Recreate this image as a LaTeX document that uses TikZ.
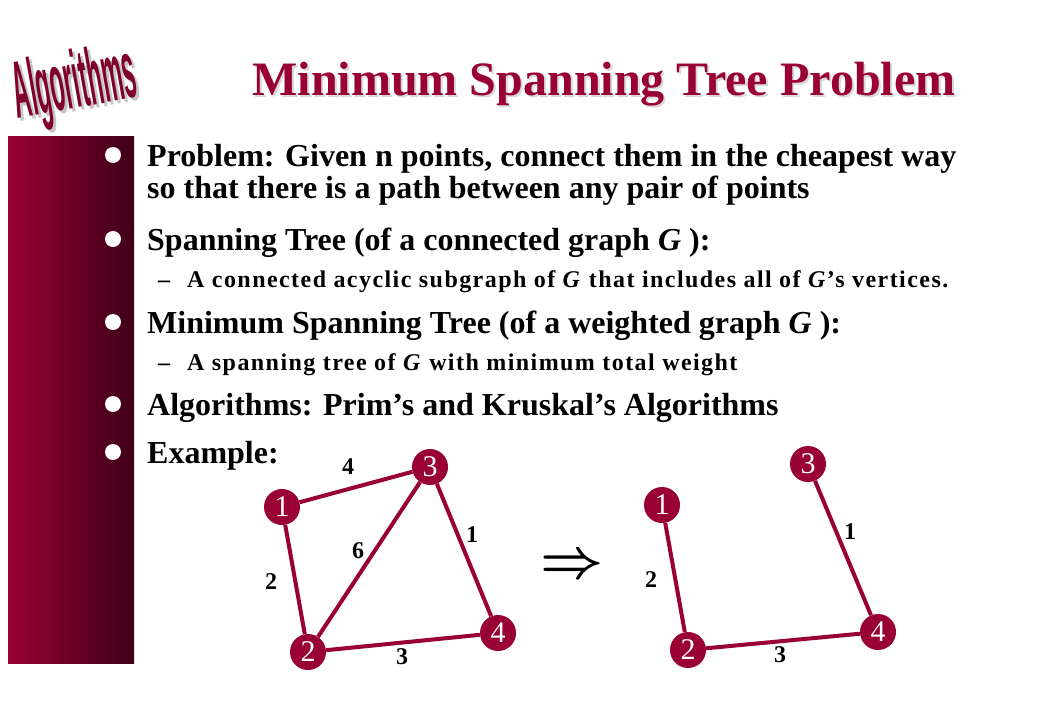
\documentclass[tikz,border=0pt]{standalone}
\usepackage{fontspec}
\setmainfont{Liberation Serif}
\newfontfamily\logofont{Liberation Sans}
\usetikzlibrary{positioning}
\definecolor{crimson}{RGB}{153,0,51}
\definecolor{wine}{RGB}{62,0,24}
\definecolor{logored}{RGB}{128,0,45}

\begin{document}
\begin{tikzpicture}[x=1pt,y=-1pt,
  vtx/.style={circle,fill=crimson,text=white,inner sep=0pt,minimum size=36pt,
    font=\fontsize{30}{30}\selectfont},
  edge/.style={crimson,line width=4pt},
  wlabel/.style={font=\fontsize{24}{24}\selectfont\bfseries},
  bigitem/.style={anchor=base west,inner sep=0pt,font=\fontsize{32}{32}\selectfont\bfseries},
  subitem/.style={anchor=base west,inner sep=0pt,
    font=\fontsize{24}{24}\selectfont\bfseries\addfontfeature{LetterSpace=6}},
  bulletdot/.style={circle,fill=white,inner sep=0pt,minimum size=16pt}]
\useasboundingbox (0,0) rectangle (1039,720);
\fill[white] (0,0) rectangle (1039,720);

% logo
\node[rotate=10,text=gray!45] (logoshadow) at (78,90)
  {\scalebox{0.78}[2.7]{\logofont\fontsize{30}{30}\selectfont\bfseries Algorithms}};
\node[rotate=10,text=logored] (logo) at (75,87)
  {\scalebox{0.78}[2.7]{\logofont\fontsize{30}{30}\selectfont\bfseries Algorithms}};

% title
\node[anchor=base,text=gray!30,font=\fontsize{48}{48}\selectfont\bfseries] (titleshadow) at (606,97)
  {Minimum Spanning Tree Problem};
\node[anchor=base,text=crimson,font=\fontsize{48}{48}\selectfont\bfseries] (title) at (604,95)
  {Minimum Spanning Tree Problem};

% side bar
\shade[left color=crimson,right color=wine] (8,136) rectangle (134,663);
\foreach \y/\n in {155/1,239/2,322/3,404/4,452/5}
  \node[bulletdot] (dot\n) at (113,\y) {};

% text
\node[bigitem] (item1) at (147,166) {Problem: Given n points, connect them in the cheapest way};
\node[bigitem] (item1b) at (147,198) {so that there is a path between any pair of points};
\node[bigitem] (item2) at (147,250) {Spanning Tree (of a connected graph \textit{G} ):};
\node[subitem] (dash2) at (158,287) {--};
\node[subitem] (sub2) at (187,287) {A connected acyclic subgraph of \textit{G} that includes all of \textit{G}’s vertices.};
\node[bigitem] (item3) at (147,333) {Minimum Spanning Tree (of a weighted graph \textit{G} ):};
\node[subitem] (dash3) at (158,370) {--};
\node[subitem] (sub3) at (187,370) {A spanning tree of \textit{G} with minimum total weight};
\node[bigitem] (item4) at (147,415) {Algorithms: Prim’s and Kruskal’s Algorithms};
\node[bigitem] (item5) at (147,463) {Example:};

% graph
\node[vtx] (a1) at (282,507) {1};
\node[vtx] (a2) at (308,652) {2};
\node[vtx] (a3) at (430,467) {3};
\node[vtx] (a4) at (498,633) {4};
\draw[edge] (a1) -- (a3);
\draw[edge] (a1) -- (a2);
\draw[edge] (a2) -- (a3);
\draw[edge] (a3) -- (a4);
\draw[edge] (a2) -- (a4);
\node[wlabel] (w13) at (348,467) {4};
\node[wlabel] (w23) at (358,551) {6};
\node[wlabel] (w34) at (472,535) {1};
\node[wlabel] (w12) at (271,582) {2};
\node[wlabel] (w24) at (402,657) {3};

\node (implies) at (572,567) {\scalebox{5.5}{\boldmath$\Rightarrow$}};

% spanning tree
\node[vtx] (b1) at (662,505) {1};
\node[vtx] (b2) at (688,650) {2};
\node[vtx] (b3) at (808,464) {3};
\node[vtx] (b4) at (878,632) {4};
\draw[edge] (b1) -- (b2);
\draw[edge] (b3) -- (b4);
\draw[edge] (b2) -- (b4);
\node[wlabel] (v34) at (850,532) {1};
\node[wlabel] (v12) at (651,580) {2};
\node[wlabel] (v24) at (780,655) {3};
\end{tikzpicture}
\end{document}
